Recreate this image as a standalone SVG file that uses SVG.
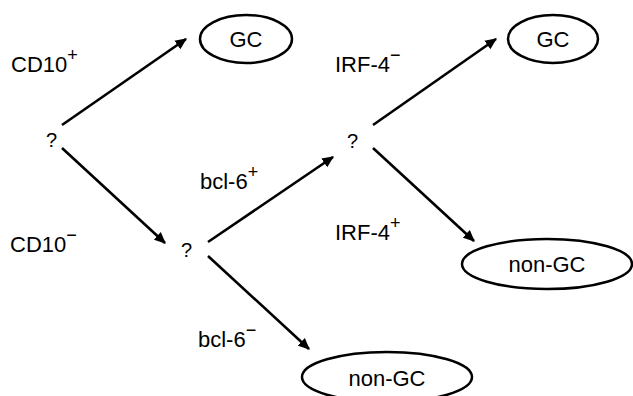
<svg xmlns="http://www.w3.org/2000/svg" width="633" height="396" viewBox="0 0 633 396">
<style>
text{font-family:"Liberation Sans",Arial,sans-serif;fill:#000}
.lbl{font-size:22px}
.q{font-size:20px}
.sup{font-size:18px}
.node ellipse{fill:#fff;stroke:#000;stroke-width:2.5}
.node text{font-size:22px;text-anchor:middle}
#connectors line{stroke:#000;stroke-width:2.6;marker-end:url(#ah)}
</style>
<defs>
<marker id="ah" viewBox="0 0 10 10" refX="9" refY="5" markerWidth="4.5" markerHeight="4.5" orient="auto" markerUnits="strokeWidth">
<path d="M0,0.5 L10,5 L0,9.5 z" fill="#000"/>
</marker>
</defs>
<rect width="633" height="396" fill="#fff"/>
<g id="connectors">
<line x1="62" y1="125" x2="186" y2="39"/>
<line x1="62" y1="148" x2="165" y2="243"/>
<line x1="208" y1="242" x2="333" y2="157"/>
<line x1="208" y1="256" x2="309" y2="349"/>
<line x1="373" y1="125" x2="496" y2="39"/>
<line x1="373" y1="148" x2="474" y2="241"/>
</g>
<g id="gc1" class="node"><ellipse cx="246" cy="39" rx="46" ry="24"/><text x="246" y="47">GC</text></g>
<g id="gc2" class="node"><ellipse cx="553" cy="39" rx="45" ry="24"/><text x="553" y="47">GC</text></g>
<g id="nongc1" class="node"><ellipse cx="547" cy="264" rx="85" ry="25"/><text x="547" y="272">non-GC</text></g>
<g id="nongc2" class="node"><ellipse cx="387" cy="377" rx="85" ry="25"/><text x="387" y="386">non-GC</text></g>
<g id="q1"><text class="q" x="46" y="147">?</text></g>
<g id="q2"><text class="q" x="181" y="257">?</text></g>
<g id="q3"><text class="q" x="347" y="148">?</text></g>
<g id="labels">
<text class="lbl" x="11" y="72">CD10<tspan class="sup" dy="-11">+</tspan></text>
<text class="lbl" x="10" y="252">CD10<tspan class="sup" dy="-11">−</tspan></text>
<text class="lbl" x="200" y="189">bcl-6<tspan class="sup" dy="-11">+</tspan></text>
<text class="lbl" x="198" y="347">bcl-6<tspan class="sup" dy="-11">−</tspan></text>
<text class="lbl" x="335" y="72">IRF-4<tspan class="sup" dy="-11">−</tspan></text>
<text class="lbl" x="335" y="240">IRF-4<tspan class="sup" dy="-11">+</tspan></text>
</g>
</svg>
